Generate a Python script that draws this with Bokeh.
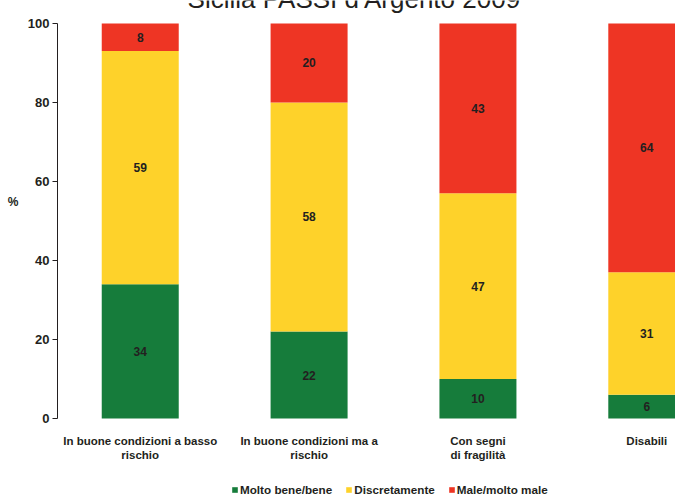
from bokeh.plotting import figure
from bokeh.models import FixedTicker, Legend, LegendItem, Label, ColumnDataSource, LinearAxis
from bokeh.core.properties import value
from bokeh.embed import file_html
from bokeh.resources import INLINE

title_text = "Sicilia PASSI d'Argento 2009"
categories = ["In buone condizioni a basso\nrischio",
              "In buone condizioni ma a\nrischio",
              "Con segni\ndi fragilità",
              "Disabili"]
series_names = ["Molto bene/bene", "Discretamente", "Male/molto male"]
molto_bene = [34, 22, 10, 6]
discretamente = [59, 58, 47, 31]
male = [8, 20, 43, 64]
y_ticks = [0, 20, 40, 60, 80, 100]
y_label = "%"

colors = ["#167C3B", "#FED22A", "#EE3524"]
FONT = "Liberation Sans"
TXT = "#231F20"

xs = list(range(len(categories)))

p = figure(width=675, height=495, output_backend="svg", toolbar_location=None,
           x_range=(-0.49, 3.17), y_range=(-19.5, 105.8),
           min_border_left=57, min_border_right=0, min_border_top=0, min_border_bottom=0)
p.outline_line_color = None
p.grid.grid_line_color = None
p.xaxis.visible = False
p.background_fill_color = "white"
p.border_fill_color = "white"

base = [0] * len(xs)
items = []
lab_x, lab_y, lab_t = [], [], []
for name, vals, col in zip(series_names, [molto_bene, discretamente, male], colors):
    top = [b + v for b, v in zip(base, vals)]
    shown_top = [min(t, 100) for t in top]
    src = ColumnDataSource(dict(x=xs, bottom=base, top=shown_top))
    r = p.vbar(x="x", bottom="bottom", top="top", width=0.456, source=src,
               fill_color=col, line_color=None)
    items.append(LegendItem(label=name, renderers=[r]))
    for xi, b, t, v in zip(xs, base, shown_top, vals):
        lab_x.append(xi)
        lab_y.append((b + t) / 2)
        lab_t.append(str(v))
    base = top

p.text(x=lab_x, y=lab_y, text=lab_t, text_align="center", text_baseline="middle",
       text_font=value(FONT), text_font_style="bold", text_font_size="12px", text_color=TXT)

# category labels under the bars
p.text(x=xs, y=[-4.2] * len(xs), text=categories, text_align="center", text_baseline="top",
       text_font=value(FONT), text_font_style="bold", text_font_size="11.5px",
       text_line_height=1.13, text_color=TXT)

# y axis
ya = p.yaxis[0]
ya.ticker = FixedTicker(ticks=y_ticks)
ya.bounds = (0, 100)
ya.axis_line_color = TXT
ya.major_tick_line_color = TXT
ya.major_tick_in = 0
ya.major_tick_out = 5
ya.minor_tick_line_color = None
ya.major_label_standoff = 3
ya.major_label_text_font = FONT
ya.major_label_text_font_style = "bold"
ya.major_label_text_font_size = "13px"
ya.major_label_text_color = TXT

# outer axis carrying only the "%" label (blank lines below lift it up)
la = LinearAxis(ticker=FixedTicker(ticks=[]), axis_label=y_label + "\n " * 6,
                axis_label_orientation="horizontal", axis_label_standoff=6,
                axis_label_text_font=FONT, axis_label_text_font_style="bold",
                axis_label_text_font_size="12px", axis_label_text_color=TXT,
                axis_label_text_line_height=1.1,
                axis_line_color=None, major_tick_line_color=None, minor_tick_line_color=None,
                major_label_text_font_size="0px")
p.add_layout(la, "left")

legend = Legend(items=items, orientation="horizontal", location=(174, -1),
                padding=0, margin=0, spacing=13, glyph_width=7, glyph_height=7,
                label_standoff=2, border_line_color=None, background_fill_alpha=0,
                label_text_font=FONT, label_text_font_style="bold",
                label_text_font_size="11.7px", label_text_color=TXT)
p.add_layout(legend, "center")

title = Label(x=1.265, y=106.1, text=title_text, text_align="center",
              text_baseline="alphabetic", text_font=FONT, text_font_size="26px",
              text_color=TXT)
p.add_layout(title)

open("out.html", "w").write(file_html(p, INLINE))
